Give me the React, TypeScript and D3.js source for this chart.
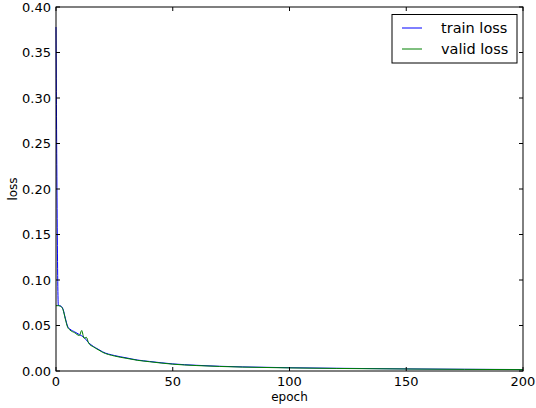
import React, { useEffect, useRef } from 'react';
import * as d3 from 'd3';

// epochs sampled along the curves
const trainEpochs = [0, 1, 2, 3, 4, 5, 6, 8, 10, 12, 14, 16, 18, 20, 25, 30, 35, 40, 50, 60, 70, 80, 100, 120, 150, 175, 200];
const trainLoss = [0.378, 0.072, 0.0715, 0.068, 0.058, 0.049, 0.046, 0.043, 0.040, 0.037, 0.031, 0.027, 0.024, 0.021, 0.017, 0.0145, 0.012, 0.0105, 0.0078, 0.0063, 0.0052, 0.0045, 0.0036, 0.0030, 0.0023, 0.0019, 0.0016];

const validEpochs = [0, 1, 2, 3, 4, 5, 6, 8, 10, 11, 12, 13, 14, 16, 18, 20, 25, 30, 35, 40, 50, 60, 70, 80, 100, 120, 150, 175, 200];
const validLoss = [0.0718, 0.0718, 0.071, 0.0675, 0.057, 0.048, 0.045, 0.042, 0.039, 0.0445, 0.036, 0.037, 0.0305, 0.0265, 0.0235, 0.0205, 0.0165, 0.014, 0.0117, 0.0102, 0.0075, 0.006, 0.005, 0.0043, 0.0034, 0.0028, 0.0022, 0.0018, 0.0015];

const xTicks = [0, 50, 100, 150, 200];
const yTicks = [0, 0.05, 0.1, 0.15, 0.2, 0.25, 0.3, 0.35, 0.4];

const seriesNames = ['train loss', 'valid loss'];
const seriesColors = ['#0000ff', '#008000'];

export default function App() {
  const ref = useRef<SVGSVGElement>(null);

  useEffect(() => {
    const svg = d3.select(ref.current);
    svg.selectAll('*').remove();

    const left = 56, right = 523, top = 7, bottom = 371;
    const x = d3.scaleLinear().domain([0, 200]).range([left, right]);
    const y = d3.scaleLinear().domain([0, 0.4]).range([bottom, top]);
    const font = 'DejaVu Sans, sans-serif';

    const g = svg.append('g');

    const line = d3.line<[number, number]>()
      .x(d => x(d[0]))
      .y(d => y(d[1]))
      .curve(d3.curveMonotoneX);

    const train = trainEpochs.map((e, i) => [e, trainLoss[i]] as [number, number]);
    const valid = validEpochs.map((e, i) => [e, validLoss[i]] as [number, number]);

    g.append('path').datum(train)
      .attr('fill', 'none').attr('stroke', seriesColors[0]).attr('stroke-width', 1)
      .attr('d', line);
    g.append('path').datum(valid)
      .attr('fill', 'none').attr('stroke', seriesColors[1]).attr('stroke-width', 1)
      .attr('d', line);

    // frame
    g.append('rect')
      .attr('x', left).attr('y', top)
      .attr('width', right - left).attr('height', bottom - top)
      .attr('fill', 'none').attr('stroke', '#000').attr('stroke-width', 1);

    // ticks inside on all sides
    const tl = 4;
    xTicks.forEach(t => {
      g.append('line').attr('x1', x(t)).attr('x2', x(t)).attr('y1', bottom).attr('y2', bottom - tl).attr('stroke', '#000');
      g.append('line').attr('x1', x(t)).attr('x2', x(t)).attr('y1', top).attr('y2', top + tl).attr('stroke', '#000');
      g.append('text').attr('x', x(t)).attr('y', bottom + 15)
        .attr('text-anchor', 'middle').attr('font-family', font).attr('font-size', 13)
        .text(String(t));
    });
    yTicks.forEach(t => {
      g.append('line').attr('x1', left).attr('x2', left + tl).attr('y1', y(t)).attr('y2', y(t)).attr('stroke', '#000');
      g.append('line').attr('x1', right).attr('x2', right - tl).attr('y1', y(t)).attr('y2', y(t)).attr('stroke', '#000');
      g.append('text').attr('x', left - 5).attr('y', y(t)).attr('dy', '0.35em')
        .attr('text-anchor', 'end').attr('font-family', font).attr('font-size', 13)
        .text(t.toFixed(2));
    });

    g.append('text').attr('x', (left + right) / 2).attr('y', 401)
      .attr('text-anchor', 'middle').attr('font-family', font).attr('font-size', 12)
      .text('epoch');
    g.append('text').attr('transform', `translate(17,${(top + bottom) / 2}) rotate(-90)`)
      .attr('text-anchor', 'middle').attr('font-family', font).attr('font-size', 12)
      .text('loss');

    // legend
    const lg = g.append('g');
    lg.append('rect').attr('x', 392).attr('y', 14.5).attr('width', 125).attr('height', 48.5)
      .attr('fill', '#fff').attr('stroke', '#000').attr('stroke-width', 1);
    seriesNames.forEach((name, i) => {
      const ly = 28 + i * 21;
      lg.append('line').attr('x1', 402).attr('x2', 422).attr('y1', ly).attr('y2', ly)
        .attr('stroke', seriesColors[i]).attr('stroke-width', 1);
      lg.append('text').attr('x', 441).attr('y', ly).attr('dy', '0.35em')
        .attr('font-family', font).attr('font-size', 14.5).text(name);
    });
  }, []);

  return (
    <svg ref={ref} width={536} height={408} style={{ position: 'absolute', left: 0, top: 0 }} />
  );
}
